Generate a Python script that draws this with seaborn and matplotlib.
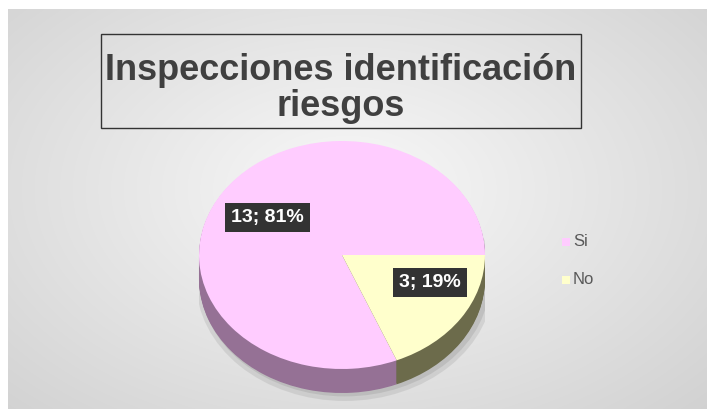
import numpy as np
import matplotlib
matplotlib.use("Agg")
import matplotlib.pyplot as plt
import seaborn as sns
from matplotlib.patches import Rectangle, Ellipse

sns.set_theme(style="white")
plt.rcParams['font.family'] = ['Liberation Sans', 'DejaVu Sans']

# ---- data ----
categories = ["Si", "No"]
counts = [13, 3]
title_lines = ["Inspecciones identificación", "riesgos"]

top_colors = ["#ffccff", "#ffffcc"]
side_colors = ["#957195", "#6c6b4b"]

W, H = 707, 409
fig = plt.figure(figsize=(W / 100, H / 100), dpi=100)

def px_rect(x0, y0, x1, y1):
    return [x0 / W, 1 - y1 / H, (x1 - x0) / W, (y1 - y0) / H]

# background gradient
bg = fig.add_axes(px_rect(8, 9, 707, 409))
yy, xx = np.mgrid[0:400, 0:699]
cx, cy = 340, 180
d = np.sqrt(((xx - cx) / 520.0) ** 2 + ((yy - cy) / 330.0) ** 2)
val = 0.975 - 0.16 * np.clip(d, 0, 1.3)
bg.imshow(np.dstack([val, val, val]), aspect="auto", interpolation="bilinear")
bg.set_axis_off()

# pie axes: top face ellipse spans x 199..485, y 141..369
x0, x1 = 199, 485
ytop, ybot = 141, 369
ry = (ybot - ytop) / 2
depth_px = 24
ax = fig.add_axes(px_rect(x0, ytop, x1, ybot + depth_px + 12))
depth = depth_px / ry

# shadow under pie
ax.add_patch(Ellipse((0.02, -depth - 0.02), 2.08, 2.1, color="#9a9a9a", alpha=0.25, lw=0))
ax.add_patch(Ellipse((0.02, -depth - 0.01), 2.03, 2.04, color="#8a8a8a", alpha=0.25, lw=0))

n = 24
for k in range(n, 0, -1):
    ax.pie(counts, colors=side_colors, startangle=0, counterclock=True,
           center=(0, -depth * k / n), radius=1, wedgeprops=dict(linewidth=0))
wedges, _ = ax.pie(counts, colors=top_colors, startangle=0, counterclock=True,
                   center=(0, 0), radius=1, wedgeprops=dict(linewidth=0))

total = sum(counts)
label_pos = [(-0.52, 0.33), (0.615, -0.24)]
for c, pos in zip(counts, label_pos):
    pct = round(100 * c / total)
    ax.text(pos[0], pos[1], f"{c}; {pct}%", ha="center", va="center",
            color="white", fontsize=14, fontweight="bold",
            bbox=dict(boxstyle="square,pad=0.3", fc="#333333", ec="none"))

ax.set_aspect("auto")
ax.set_xlim(-1, 1)
h_units = (ybot + depth_px + 12 - ytop) / ry
ax.set_ylim(1 - h_units, 1)
ax.set_axis_off()

# title box
fig.patches.append(Rectangle((101 / W, 1 - 128 / H), 480 / W, 94 / H,
                             transform=fig.transFigure, fill=False,
                             ec="#333333", lw=1.0))
fig.text(341 / W, 1 - 70 / H, title_lines[0], ha="center", va="center",
         fontsize=26, fontweight="bold", color="#404040")
fig.text(341 / W, 1 - 107 / H, title_lines[1], ha="center", va="center",
         fontsize=26, fontweight="bold", color="#404040")

# legend
leg_y = [242, 280]
for cat, col, y in zip(categories, top_colors, leg_y):
    fig.patches.append(Rectangle((562 / W, 1 - (y + 4) / H), 8 / W, 8 / H,
                                 transform=fig.transFigure, fc=col, ec="none"))
    fig.text(573 / W, 1 - y / H, cat, ha="left", va="center",
             fontsize=12, color="#595959")

fig.savefig("out.png", dpi=100)
